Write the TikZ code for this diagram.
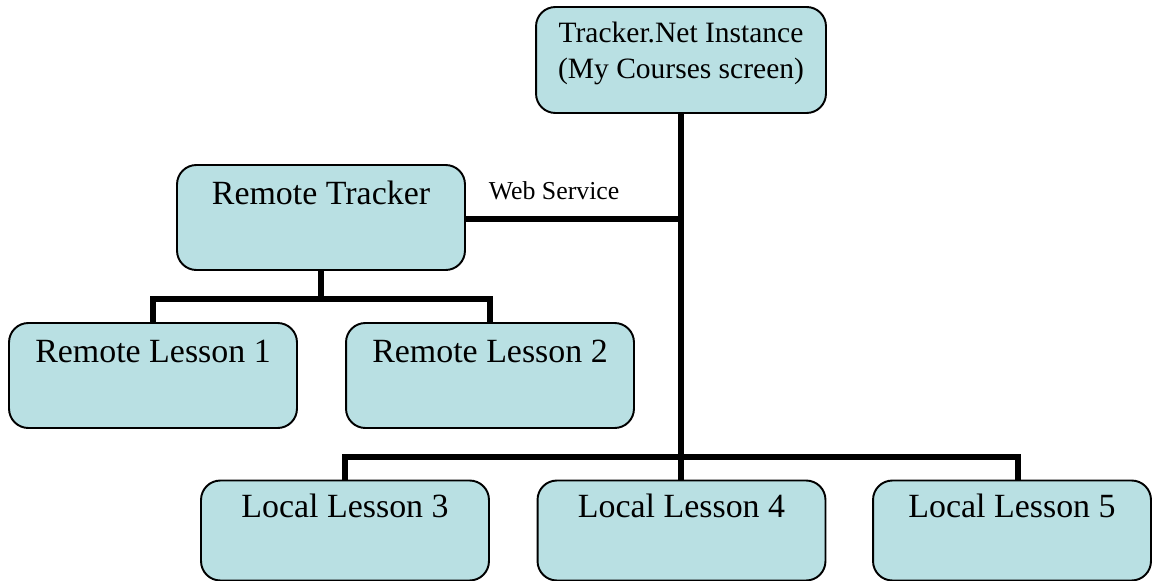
\documentclass[tikz,border=0pt]{standalone}
\usepackage{fontspec}
\setmainfont{Liberation Serif}
\definecolor{boxfill}{RGB}{185,224,227}

\begin{document}
\begin{tikzpicture}[
        x=0.02cm, y=-0.02cm,
        box/.style={rectangle, rounded corners=11pt, draw, line width=1.1pt, fill=boxfill,
          minimum width=5.76cm, minimum height=2.1cm, inner sep=0pt,
          text height=13pt, text depth=28.3pt, font=\fontsize{19.3}{23}\selectfont},
        link/.style={line width=3pt}
      ]
        \useasboundingbox (0,0) rectangle (1152,581);

        % Define the boxes of the chart
        \node[box, minimum width=5.8cm, minimum height=2.12cm, align=center,
              text height=, text depth=, font=\fontsize{16.8}{20.4}\selectfont]
              (Root) at (681,60) {Tracker.Net Instance\\(My Courses screen)\\[-9pt]{}};
        \node[box] (Remote) at (321,217.5) {Remote Tracker};
        \node[box] (RL1) at (153,375.5) {Remote Lesson 1};
        \node[box] (RL2) at (490,375.5) {Remote Lesson 2};
        \node[box, minimum height=2cm] (LL3) at (345,530.5) {Local Lesson 3};
        \node[box, minimum height=2cm] (LL4) at (681.5,530.5) {Local Lesson 4};
        \node[box, minimum height=2cm, minimum width=5.56cm] (LL5) at (1012,530.5) {Local Lesson 5};

        % Points where the lines join
        \coordinate (Web) at (681,219);
        \coordinate (LocalBar) at (681,457);
        \coordinate (RemoteBar) at (321,299);

        \draw[link] (Root) -- (LocalBar);
        \draw[link] (Remote.east |- Web) -- node[pos=0.41, anchor=base, yshift=11pt,
              font=\fontsize{14.7}{17}\selectfont] {Web Service} (Web);

        \draw[link] (LL3.north) -- (LL3.north |- LocalBar) -- (1018,457) -- (1018,480);
        \draw[link] (LocalBar) -- (LL4.north -| LocalBar);

        \draw[link] (Remote) -- (RemoteBar);
        \draw[link] (RL1.north) -- (RL1.north |- RemoteBar) -- (RL2.north |- RemoteBar) -- (RL2.north);
      \end{tikzpicture}
\end{document}
